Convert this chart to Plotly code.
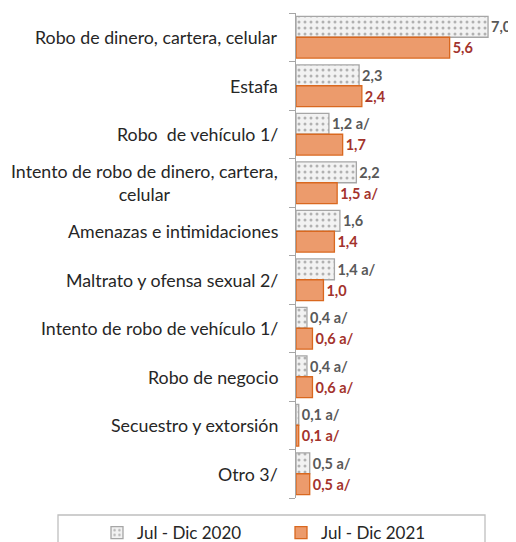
import plotly.graph_objects as go

categories = [
    "Robo de dinero, cartera, celular",
    "Estafa",
    "Robo  de vehículo 1/",
    "Intento de robo de dinero, cartera,<br>celular",
    "Amenazas e intimidaciones",
    "Maltrato y ofensa sexual 2/",
    "Intento de robo de vehículo 1/",
    "Robo de negocio",
    "Secuestro y extorsión",
    "Otro 3/",
]
values_2020 = [7.0, 2.3, 1.2, 2.2, 1.6, 1.4, 0.4, 0.4, 0.1, 0.5]
values_2021 = [5.6, 2.4, 1.7, 1.5, 1.4, 1.0, 0.6, 0.6, 0.1, 0.5]
labels_2020 = ["7,0", "2,3", "1,2 a/", "2,2", "1,6", "1,4 a/", "0,4 a/", "0,4 a/", "0,1 a/", "0,5 a/"]
labels_2021 = ["5,6", "2,4", "1,7", "1,5 a/", "1,4", "1,0", "0,6 a/", "0,6 a/", "0,1 a/", "0,5 a/"]
series_names = ["Jul - Dic 2020", "Jul - Dic 2021"]

FONT = "Lato"
W, H = 508, 560
L, R, T, B = 288, 6, 5, 70
PW, PH = W - L - R, H - T - B
PB = H - B  # plot bottom in figure px
pos = list(range(len(categories)))

fig = go.Figure()
fig.add_trace(go.Bar(
    y=pos, x=values_2020, orientation="h", name=series_names[0],
    marker=dict(color="#f2f2f2", line=dict(color="#a6a6a6", width=1.3),
                pattern=dict(shape=".", fgcolor="#6f6f6f", bgcolor="#f2f2f2", size=6, solidity=0.2)),
    text=labels_2020, textposition="outside", cliponaxis=False, constraintext="none",
    textfont=dict(family=FONT, size=14.5, color="#595959", weight="bold"),
))
fig.add_trace(go.Bar(
    y=pos, x=values_2021, orientation="h", name=series_names[1],
    marker=dict(color="#ec9b6c", line=dict(color="#d9681f", width=1.3)),
    text=labels_2021, textposition="outside", cliponaxis=False, constraintext="none",
    textfont=dict(family=FONT, size=14.5, color="#a3332c", weight="bold"),
))

for i, c in enumerate(categories):
    fig.add_annotation(
        x=0, xref="paper", y=i, yref="y", text=c, showarrow=False,
        xanchor="right", yanchor="middle", align="center", xshift=-16,
        font=dict(family=FONT, size=17.8, color="#262626"),
    )

# legend frame
fig.add_shape(type="rect", xref="paper", yref="paper",
              x0=(50 - L) / PW, x1=(477 - L) / PW,
              y0=(PB - 552) / PH, y1=(PB - 507) / PH,
              line=dict(color="#bfbfbf", width=1.3), fillcolor="rgba(0,0,0,0)")

fig.update_layout(
    width=W, height=H,
    margin=dict(l=L, r=R, t=T, b=B),
    paper_bgcolor="white", plot_bgcolor="white",
    barmode="group", bargap=0.14, bargroupgap=0,
    showlegend=True,
    legend=dict(orientation="h",
                x=(89 - L) / PW, xanchor="left", y=(PB - 543) / PH, yanchor="bottom",
                entrywidth=139, entrywidthmode="pixels",
                font=dict(family=FONT, size=17, color="#262626"),
                bgcolor="rgba(0,0,0,0)"),
    xaxis=dict(range=[0, 7.8], visible=False),
    yaxis=dict(range=[9.5, -0.5], showticklabels=False, showgrid=False, zeroline=False,
               tickmode="array", tickvals=[i - 0.5 for i in range(len(categories) + 1)],
               ticks="outside", ticklen=6, tickcolor="#a6a6a6", tickwidth=1.3,
               showline=True, linecolor="#a6a6a6", linewidth=1.3),
)

fig.write_html("out.html")
